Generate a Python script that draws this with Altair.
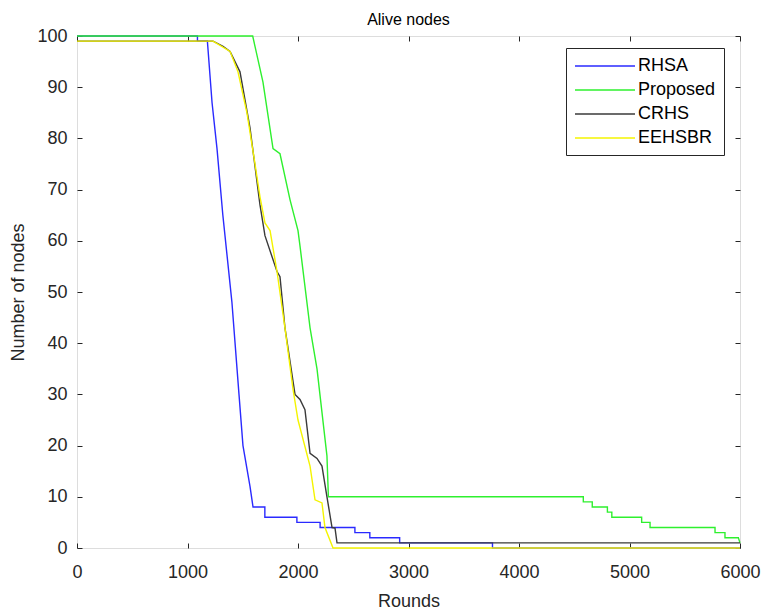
import altair as alt
import pandas as pd

series = ["RHSA", "Proposed", "CRHS", "EEHSBR"]
colors = ["#2a2aff", "#2ef02e", "#3a3a3a", "#f4f400"]
widths = [1.4, 1.4, 2.2, 1.4]

rhsa_rounds = [0, 1090, 1090, 1180, 1222, 1267, 1320, 1402, 1466, 1502, 1566, 1593,
               1700, 1700, 1990, 1990, 2200, 2200, 2515, 2515, 2650, 2650, 2920, 2920,
               3760, 3760, 6000]
rhsa_alive = [100, 100, 99, 99, 87, 78, 65, 48, 30, 20, 12, 8,
              8, 6, 6, 5, 5, 4, 4, 3, 3, 2, 2, 1,
              1, 0, 0]

prop_rounds = [0, 1590, 1683, 1774, 1837, 1928, 2000, 2018, 2109, 2172, 2262, 2275,
               4582, 4582, 4663, 4663, 4800, 4800, 4840, 4840, 5110, 5110, 5186, 5186,
               5774, 5774, 5864, 5864, 5985, 6000]
prop_alive = [100, 100, 91, 78, 77, 68, 62, 59, 43, 35, 18, 10,
              10, 9, 9, 8, 8, 7, 7, 6, 6, 5, 5, 4,
              4, 3, 3, 2, 2, 1]

crhs_rounds = [0, 1231, 1321, 1385, 1475, 1566, 1656, 1701, 1810, 1837, 1882, 1973,
               2018, 2063, 2109, 2172, 2217, 2262, 2308, 2335, 2353, 6000]
crhs_alive = [99, 99, 98, 97, 93, 82, 67, 61, 54, 53, 43, 30,
              29, 27, 18.5, 17.5, 16, 10, 4, 3.9, 1, 1]

eeh_rounds = [0, 1231, 1385, 1457, 1538, 1611, 1656, 1701, 1747, 1810, 1882, 1955,
              2000, 2109, 2154, 2217, 2244, 2317, 6000]
eeh_alive = [99, 99, 97, 93, 85, 75, 68.6, 63.5, 62, 54, 43, 31,
             25, 16, 9.4, 8.8, 4, 0, 0]

x_ticks = [0, 1000, 2000, 3000, 4000, 5000, 6000]
y_ticks = [0, 10, 20, 30, 40, 50, 60, 70, 80, 90, 100]

rows = []
for name, xs, ys in [("RHSA", rhsa_rounds, rhsa_alive),
                     ("Proposed", prop_rounds, prop_alive),
                     ("CRHS", crhs_rounds, crhs_alive),
                     ("EEHSBR", eeh_rounds, eeh_alive)]:
    for i, (xv, yv) in enumerate(zip(xs, ys)):
        rows.append({"series": name, "Rounds": xv, "Alive": yv, "idx": i})
df = pd.DataFrame(rows)

FONT = "Liberation Sans"
TXT = "#262626"
xscale = alt.Scale(domain=[0, 6000], nice=False, zero=False)
yscale = alt.Scale(domain=[0, 100], nice=False, zero=False)

legend = alt.Legend(
    title=None, orient="none", legendX=489, legendY=12,
    symbolType="M-1,0H5.67", symbolSize=324, labelOffset=44,
    labelFont=FONT, labelFontSize=18, labelColor="#000000",
    strokeColor=TXT, fillColor="#ffffff", padding=8, rowPadding=5,
    labelLimit=200,
)

x_axis = alt.Axis(orient="bottom", values=x_ticks, offset=-5, tickSize=5,
                  labelPadding=15, domain=False, grid=False, format="d",
                  title="Rounds", titleY=49, titleFontWeight="normal",
                  titleFont=FONT, titleFontSize=18, titleColor=TXT,
                  labelFont=FONT, labelFontSize=18, labelColor=TXT,
                  tickColor=TXT, labelFlush=False)
y_axis = alt.Axis(orient="left", values=y_ticks, offset=-5, tickSize=5,
                  labelPadding=10, domain=False, grid=False,
                  title="Number of nodes", titleX=-55, titleY=256,
                  titleFontWeight="normal", titleFont=FONT, titleFontSize=18,
                  titleColor=TXT, labelFont=FONT, labelFontSize=18,
                  labelColor=TXT, tickColor=TXT, labelFlush=False)

layers = []
for name in series:
    layers.append(
        alt.Chart(df).transform_filter(alt.datum.series == name).mark_line(clip=False).encode(
            x=alt.X("Rounds:Q", scale=xscale, axis=x_axis),
            y=alt.Y("Alive:Q", scale=yscale, axis=y_axis),
            color=alt.Color("series:N", scale=alt.Scale(domain=series, range=colors), legend=legend),
            strokeWidth=alt.StrokeWidth("series:N", scale=alt.Scale(domain=series, range=widths), legend=legend),
            order=alt.Order("idx:Q"),
        )
    )

lines = alt.layer(*layers)

frame = alt.Chart(df).mark_point(opacity=0).encode(
    x=alt.X("Rounds:Q", scale=xscale,
            axis=alt.Axis(orient="top", values=x_ticks, offset=-5, tickSize=5,
                          labels=False, domain=False, grid=False, title=None,
                          tickColor=TXT)),
    y=alt.Y("Alive:Q", scale=yscale,
            axis=alt.Axis(orient="right", values=y_ticks, offset=-5, tickSize=5,
                          labels=False, domain=False, grid=False, title=None,
                          tickColor=TXT)),
)

chart = alt.layer(lines, frame).resolve_axis(x="independent", y="independent").properties(
    width=663, height=512,
    title=alt.TitleParams("Alive nodes", font=FONT, fontSize=16, fontWeight="normal",
                          color="#000000", offset=-1),
    autosize=alt.AutoSizeParams(type="none"),
    padding={"left": 77, "top": 36, "right": 24, "bottom": 62},
).configure_view(stroke=TXT, strokeWidth=1).configure(background="#ffffff")

chart.save("out.html", embed_options={"renderer": "svg", "actions": False})
